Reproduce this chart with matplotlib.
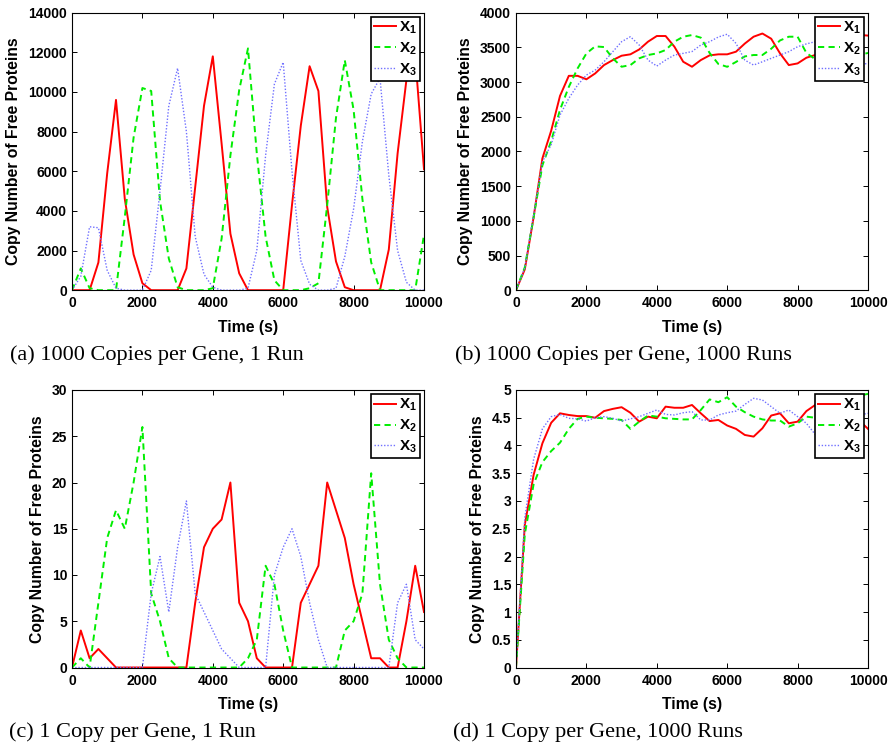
import numpy as np
import matplotlib
matplotlib.use('Agg')
import matplotlib.pyplot as plt
from matplotlib.ticker import MultipleLocator, FormatStrFormatter

plt.rcParams['font.family'] = 'Liberation Sans'
plt.rcParams['font.weight'] = 'bold'
plt.rcParams['mathtext.fontset'] = 'custom'
plt.rcParams['mathtext.bf'] = 'Liberation Sans:bold'
plt.rcParams['mathtext.rm'] = 'Liberation Sans:bold'

t = np.arange(0, 10001, 250)       # temps (s), pas de 250 s

# (a) 1000 copies par gène, 1 simulation
a_x1 = [0, 0, 0, 1400, 5900, 9600, 4600, 1800, 350, 0, 0, 0, 0, 1100, 5200, 9300, 11800,
        7400, 2850, 850, 0, 0, 0, 0, 0, 4300, 8300, 11300, 10050, 4200, 1450, 150, 0, 0,
        0, 0, 2050, 6900, 10600, 11800, 6100]
a_x2 = [0, 1100, 100, 0, 0, 0, 3700, 7700, 10200, 10050, 4500, 1600, 150, 0, 0, 0, 100,
        2600, 6800, 10100, 12200, 6900, 2700, 500, 0, 0, 0, 100, 350, 4300, 8700, 11600,
        9100, 4600, 1400, 0, 0, 0, 0, 0, 2800]
a_x3 = [0, 700, 3200, 3150, 1000, 100, 0, 0, 0, 1000, 5000, 9300, 11200, 8000, 2700, 800,
        150, 0, 0, 0, 100, 2000, 6800, 10400, 11500, 6000, 1500, 300, 0, 0, 100, 1700,
        4100, 7500, 9900, 10700, 5800, 2000, 400, 0, 0]

# (b) 1000 copies par gène, 1000 simulations
b_x1 = [0, 300, 1050, 1900, 2300, 2800, 3090, 3090, 3040, 3125, 3245, 3317, 3380, 3400,
        3470, 3582, 3664, 3664, 3510, 3293, 3221, 3317, 3385, 3400, 3400, 3438, 3555,
        3654, 3700, 3625, 3414, 3245, 3269, 3351, 3390, 3420, 3480, 3560, 3640, 3680, 3670]
b_x2 = [0, 330, 1050, 1800, 2150, 2600, 2930, 3197, 3413, 3515, 3505, 3342, 3221, 3245,
        3342, 3390, 3413, 3462, 3582, 3654, 3678, 3640, 3420, 3260, 3220, 3290, 3370,
        3390, 3390, 3480, 3600, 3654, 3654, 3420, 3330, 3250, 3220, 3260, 3330, 3390, 3420]
b_x3 = [0, 320, 1080, 1850, 2100, 2524, 2765, 2957, 3101, 3173, 3293, 3438, 3582, 3654,
        3534, 3317, 3231, 3317, 3390, 3414, 3440, 3534, 3582, 3650, 3690, 3558, 3317,
        3245, 3293, 3342, 3390, 3438, 3510, 3550, 3582, 3560, 3450, 3350, 3280, 3250, 3270]

# (c) 1 copie par gène, 1 simulation
c_x1 = [0, 4, 1, 2, 1, 0, 0, 0, 0, 0, 0, 0, 0, 0, 7, 13, 15, 16, 20, 7, 5, 1, 0, 0, 0,
        0, 7, 9, 11, 20, 17, 14, 9, 5, 1, 1, 0, 0, 5, 11, 6]
c_x2 = [0, 1, 0, 7, 14, 17, 15, 20, 26, 8, 5, 1, 0, 0, 0, 0, 0, 0, 0, 0, 1, 3, 11, 9, 4,
        0, 0, 0, 0, 0, 0, 4, 5, 8, 21, 9, 3, 1, 0, 0, 0]
c_x3 = [0, 0, 0, 0, 0, 0, 0, 0, 0, 8, 12, 6, 13, 18, 8, 6, 4, 2, 1, 0, 0, 0, 0, 10, 13,
        15, 12, 7, 3, 0, 0, 0, 0, 0, 0, 0, 0, 7, 9, 3, 2]

# (d) 1 copie par gène, 1000 simulations
d_x1 = [0, 2.57, 3.47, 4.04, 4.41, 4.58, 4.55, 4.53, 4.53, 4.50, 4.62, 4.66, 4.69, 4.59,
        4.43, 4.52, 4.49, 4.70, 4.68, 4.68, 4.73, 4.58, 4.44, 4.46, 4.36, 4.30, 4.19,
        4.16, 4.31, 4.54, 4.58, 4.40, 4.43, 4.62, 4.73, 4.78, 4.72, 4.65, 4.55, 4.45, 4.30]
d_x2 = [0, 2.40, 3.30, 3.70, 3.90, 4.05, 4.30, 4.48, 4.52, 4.50, 4.49, 4.48, 4.46, 4.30,
        4.43, 4.54, 4.52, 4.49, 4.48, 4.47, 4.47, 4.64, 4.83, 4.78, 4.87, 4.70, 4.60,
        4.52, 4.47, 4.45, 4.45, 4.34, 4.40, 4.52, 4.50, 4.55, 4.65, 4.75, 4.85, 4.90, 4.93]
d_x3 = [0, 2.70, 3.75, 4.30, 4.52, 4.56, 4.49, 4.48, 4.44, 4.50, 4.52, 4.49, 4.44, 4.48,
        4.52, 4.58, 4.64, 4.56, 4.55, 4.59, 4.61, 4.46, 4.46, 4.55, 4.59, 4.62, 4.74,
        4.85, 4.82, 4.70, 4.58, 4.64, 4.52, 4.40, 4.20, 4.25, 4.35, 4.45, 4.50, 4.55, 4.58]

panels = [
    (a_x1, a_x2, a_x3, 14000, 2000, '(a) 1000 Copies per Gene, 1 Run'),
    (b_x1, b_x2, b_x3, 4000, 500, '(b) 1000 Copies per Gene, 1000 Runs'),
    (c_x1, c_x2, c_x3, 30, 5, '(c) 1 Copy per Gene, 1 Run'),
    (d_x1, d_x2, d_x3, 5, 0.5, '(d) 1 Copy per Gene, 1000 Runs'),
]

W, H = 893, 746
fig = plt.figure(figsize=(W/100, H/100), dpi=100)

boxes = [(72, 12.7), (516, 12.7), (72, 390), (516, 390)]
captions = [(10, 360), (455, 360), (9, 737), (453, 737)]

for (x1, x2, x3, ymax, ystep, cap), (lx, ty), (cx, cy) in zip(panels, boxes, captions):
    ax = fig.add_axes([lx/W, 1-(ty+277.5)/H, 352/W, 277.5/H])
    ax.plot(t, x1, color='#ff0000', lw=1.4, label=r'$\mathbf{X_1}$')
    ax.plot(t, x2, color='#00ee00', lw=1.4, dashes=(3.2, 2.2), label=r'$\mathbf{X_2}$')
    ax.plot(t, x3, color='#7070ff', lw=1.0, dashes=(1, 1.3), label=r'$\mathbf{X_3}$')
    ax.set_xlim(0, 10000)
    ax.set_ylim(0, ymax)
    ax.xaxis.set_major_locator(MultipleLocator(2000))
    ax.yaxis.set_major_locator(MultipleLocator(ystep))
    ax.yaxis.set_major_formatter(FormatStrFormatter('%g'))
    ax.tick_params(direction='in', length=3.5, width=0.7, top=True, right=True,
                   labelsize=10)
    ax.tick_params(axis='x', pad=4.5)
    ax.tick_params(axis='y', pad=3.5)
    for s in ax.spines.values():
        s.set_linewidth(0.8)
    ax.set_xlabel('Time (s)', fontsize=11.3, fontweight='bold', labelpad=7)
    ax.set_ylabel('Copy Number of Free Proteins', fontsize=11.3, fontweight='bold',
                  labelpad=5)
    leg = ax.legend(loc='upper right', fontsize=11, fancybox=False, framealpha=1,
                    edgecolor='black', borderaxespad=0.25, borderpad=0.2,
                    labelspacing=0.3, handlelength=1.45, handletextpad=0.2)
    leg.get_frame().set_linewidth(1.2)
    fig.text(cx/W, 1-cy/H, cap, family='Liberation Serif', fontweight='normal',
             fontsize=16, va='baseline', ha='left')

plt.savefig('out.png', dpi=100)
